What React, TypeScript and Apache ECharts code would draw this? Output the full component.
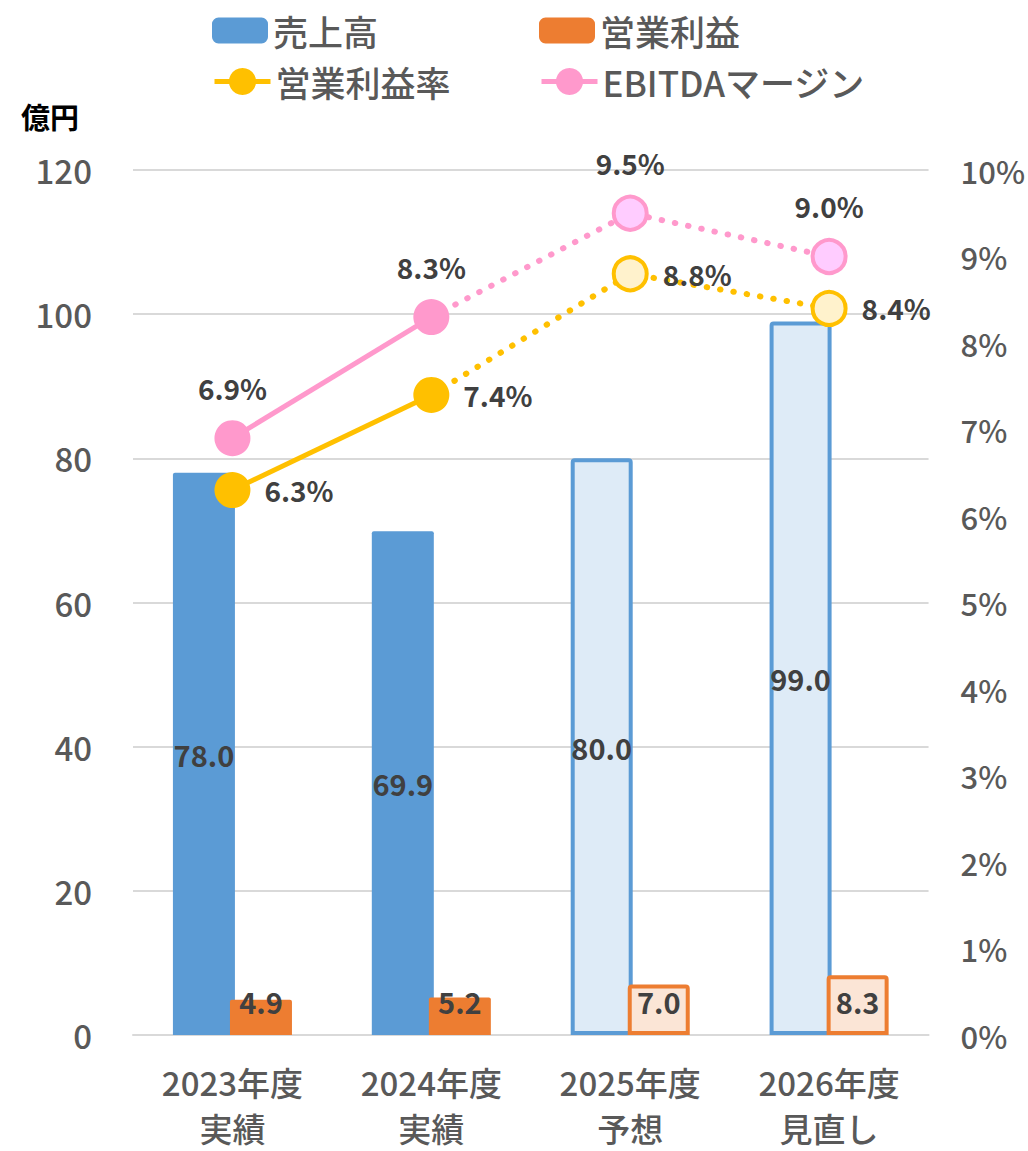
import React, { useEffect, useRef } from "react";
import * as echarts from "echarts";

const categories = ["2023年度\n実績", "2024年度\n実績", "2025年度\n予想", "2026年度\n見直し"];
const sales = [78.0, 69.9, 80.0, 99.0];
const opProfit = [4.9, 5.2, 7.0, 8.3];
const opMargin = [6.3, 7.4, 8.8, 8.4];
const ebitdaMargin = [6.9, 8.3, 9.5, 9.0];
const actualCount = 2;
const leftTicks = { min: 0, max: 120, interval: 20 };
const rightTicks = { min: 0, max: 10, interval: 1 };

const FONT = "'Noto Sans CJK JP', 'Noto Sans', sans-serif";
const BLUE = "#5B9BD5";
const BLUE_L = "#DEEBF7";
const ORANGE = "#ED7D31";
const ORANGE_L = "#FBE5D6";
const YELLOW = "#FFC000";
const YELLOW_L = "#FFF2CC";
const PINK = "#FF99CC";
const PINK_L = "#FFCCFF";

function barData(vals: number[], solid: string, light: string) {
  return vals.map((v, i) =>
    i < actualCount
      ? { value: v, itemStyle: { color: solid } }
      : { value: v, itemStyle: { color: light, borderColor: solid, borderWidth: 4 } }
  );
}

function lineSeries(name: string, vals: number[], color: string, light: string, pos: string, dist: number) {
  const label = {
    show: true,
    position: pos,
    distance: dist,
    color: "#404040",
    fontSize: 28,
    fontFamily: FONT,
    fontWeight: "bold",
    formatter: (p: any) => Number(p.value).toFixed(1) + "%",
  };
  const solid = vals.map((v, i) => (i < actualCount ? v : "-"));
  const dotted = vals.map((v, i) =>
    i < actualCount - 1
      ? "-"
      : i === actualCount - 1
      ? { value: v, symbol: "none", label: { show: false } }
      : v
  );
  return [
    {
      name,
      type: "line",
      yAxisIndex: 1,
      data: solid,
      symbol: "circle",
      symbolSize: 36,
      lineStyle: { color, width: 5 },
      itemStyle: { color },
      label,
      z: 5,
    },
    {
      name,
      type: "line",
      yAxisIndex: 1,
      data: dotted,
      symbol: "circle",
      symbolSize: 33,
      lineStyle: { color, width: 6, type: [0.5, 13], cap: "round" },
      itemStyle: { color: light, borderColor: color, borderWidth: 4 },
      label,
      z: 4,
    },
  ];
}

export default function App() {
  const ref = useRef<HTMLDivElement>(null);
  useEffect(() => {
    if (!ref.current) return;
    const chart = echarts.init(ref.current, undefined, { renderer: "svg" });
    const legendText = { fontSize: 35, color: "#595959", fontFamily: FONT, fontWeight: 500 };
    const barLegend = { itemWidth: 56, itemHeight: 26, textStyle: legendText, itemGap: 4 };
    const lineLegend = {
      itemWidth: 56,
      itemHeight: 34,
      textStyle: legendText,
      lineStyle: { width: 5 },
      itemGap: 4,
    };
    chart.setOption({
      animation: false,
      textStyle: { fontFamily: FONT },
      legend: [
        { ...barLegend, left: 207, top: 8, data: ["売上高"] },
        { ...barLegend, left: 534, top: 8, data: ["営業利益"] },
        { ...lineLegend, left: 207, top: 59, data: ["営業利益率"] },
        { ...lineLegend, left: 534, top: 59, data: ["EBITDAマージン"] },
      ],
      graphic: [
        {
          type: "text",
          left: 21,
          top: 101,
          style: { text: "億円", fontSize: 29, fontWeight: "bold", fill: "#000", fontFamily: FONT },
        },
      ],
      grid: { left: 133, right: 93, top: 170, bottom: 111, containLabel: false },
      xAxis: {
        type: "category",
        data: categories,
        axisLine: { show: true, lineStyle: { color: "#D9D9D9", width: 2 } },
        axisTick: { show: false },
        axisLabel: {
          color: "#595959",
          fontSize: 33,
          fontWeight: 500,
          fontFamily: FONT,
          lineHeight: 46,
          margin: 24,
          interval: 0,
        },
      },
      yAxis: [
        {
          type: "value",
          ...leftTicks,
          axisLine: { show: false },
          axisTick: { show: false },
          splitLine: { lineStyle: { color: "#D9D9D9", width: 2 } },
          axisLabel: { color: "#595959", fontSize: 33, fontWeight: 500, fontFamily: FONT, margin: 41 },
        },
        {
          type: "value",
          ...rightTicks,
          axisLine: { show: false },
          axisTick: { show: false },
          splitLine: { show: false },
          axisLabel: {
            color: "#595959",
            fontSize: 31,
            fontWeight: 500,
            fontFamily: FONT,
            margin: 32,
            formatter: "{value}%",
          },
        },
      ],
      series: [
        {
          name: "売上高",
          type: "bar",
          data: barData(sales, BLUE, BLUE_L),
          barWidth: 62,
          barGap: "-8%",
          itemStyle: { color: BLUE, borderRadius: [2, 2, 0, 0] },
          label: {
            show: true,
            position: "inside",
            color: "#404040",
            fontSize: 29,
            fontFamily: FONT,
            fontWeight: "bold",
            formatter: (p: any) => Number(p.value).toFixed(1),
          },
          z: 2,
        },
        {
          name: "営業利益",
          type: "bar",
          data: barData(opProfit, ORANGE, ORANGE_L),
          barWidth: 62,
          itemStyle: { color: ORANGE, borderRadius: [2, 2, 0, 0] },
          label: {
            show: true,
            position: "insideBottom",
            distance: 20,
            color: "#404040",
            fontSize: 29,
            fontFamily: FONT,
            fontWeight: "bold",
            formatter: (p: any) => Number(p.value).toFixed(1),
          },
          z: 3,
        },
        ...lineSeries("営業利益率", opMargin, YELLOW, YELLOW_L, "right", 14),
        ...lineSeries("EBITDAマージン", ebitdaMargin, PINK, PINK_L, "top", 18),
      ],
    });
    return () => chart.dispose();
  }, []);
  return (
    <div
      ref={ref}
      style={{ position: "fixed", left: 0, top: 0, width: 1028, height: 1151, background: "#fff" }}
    />
  );
}
